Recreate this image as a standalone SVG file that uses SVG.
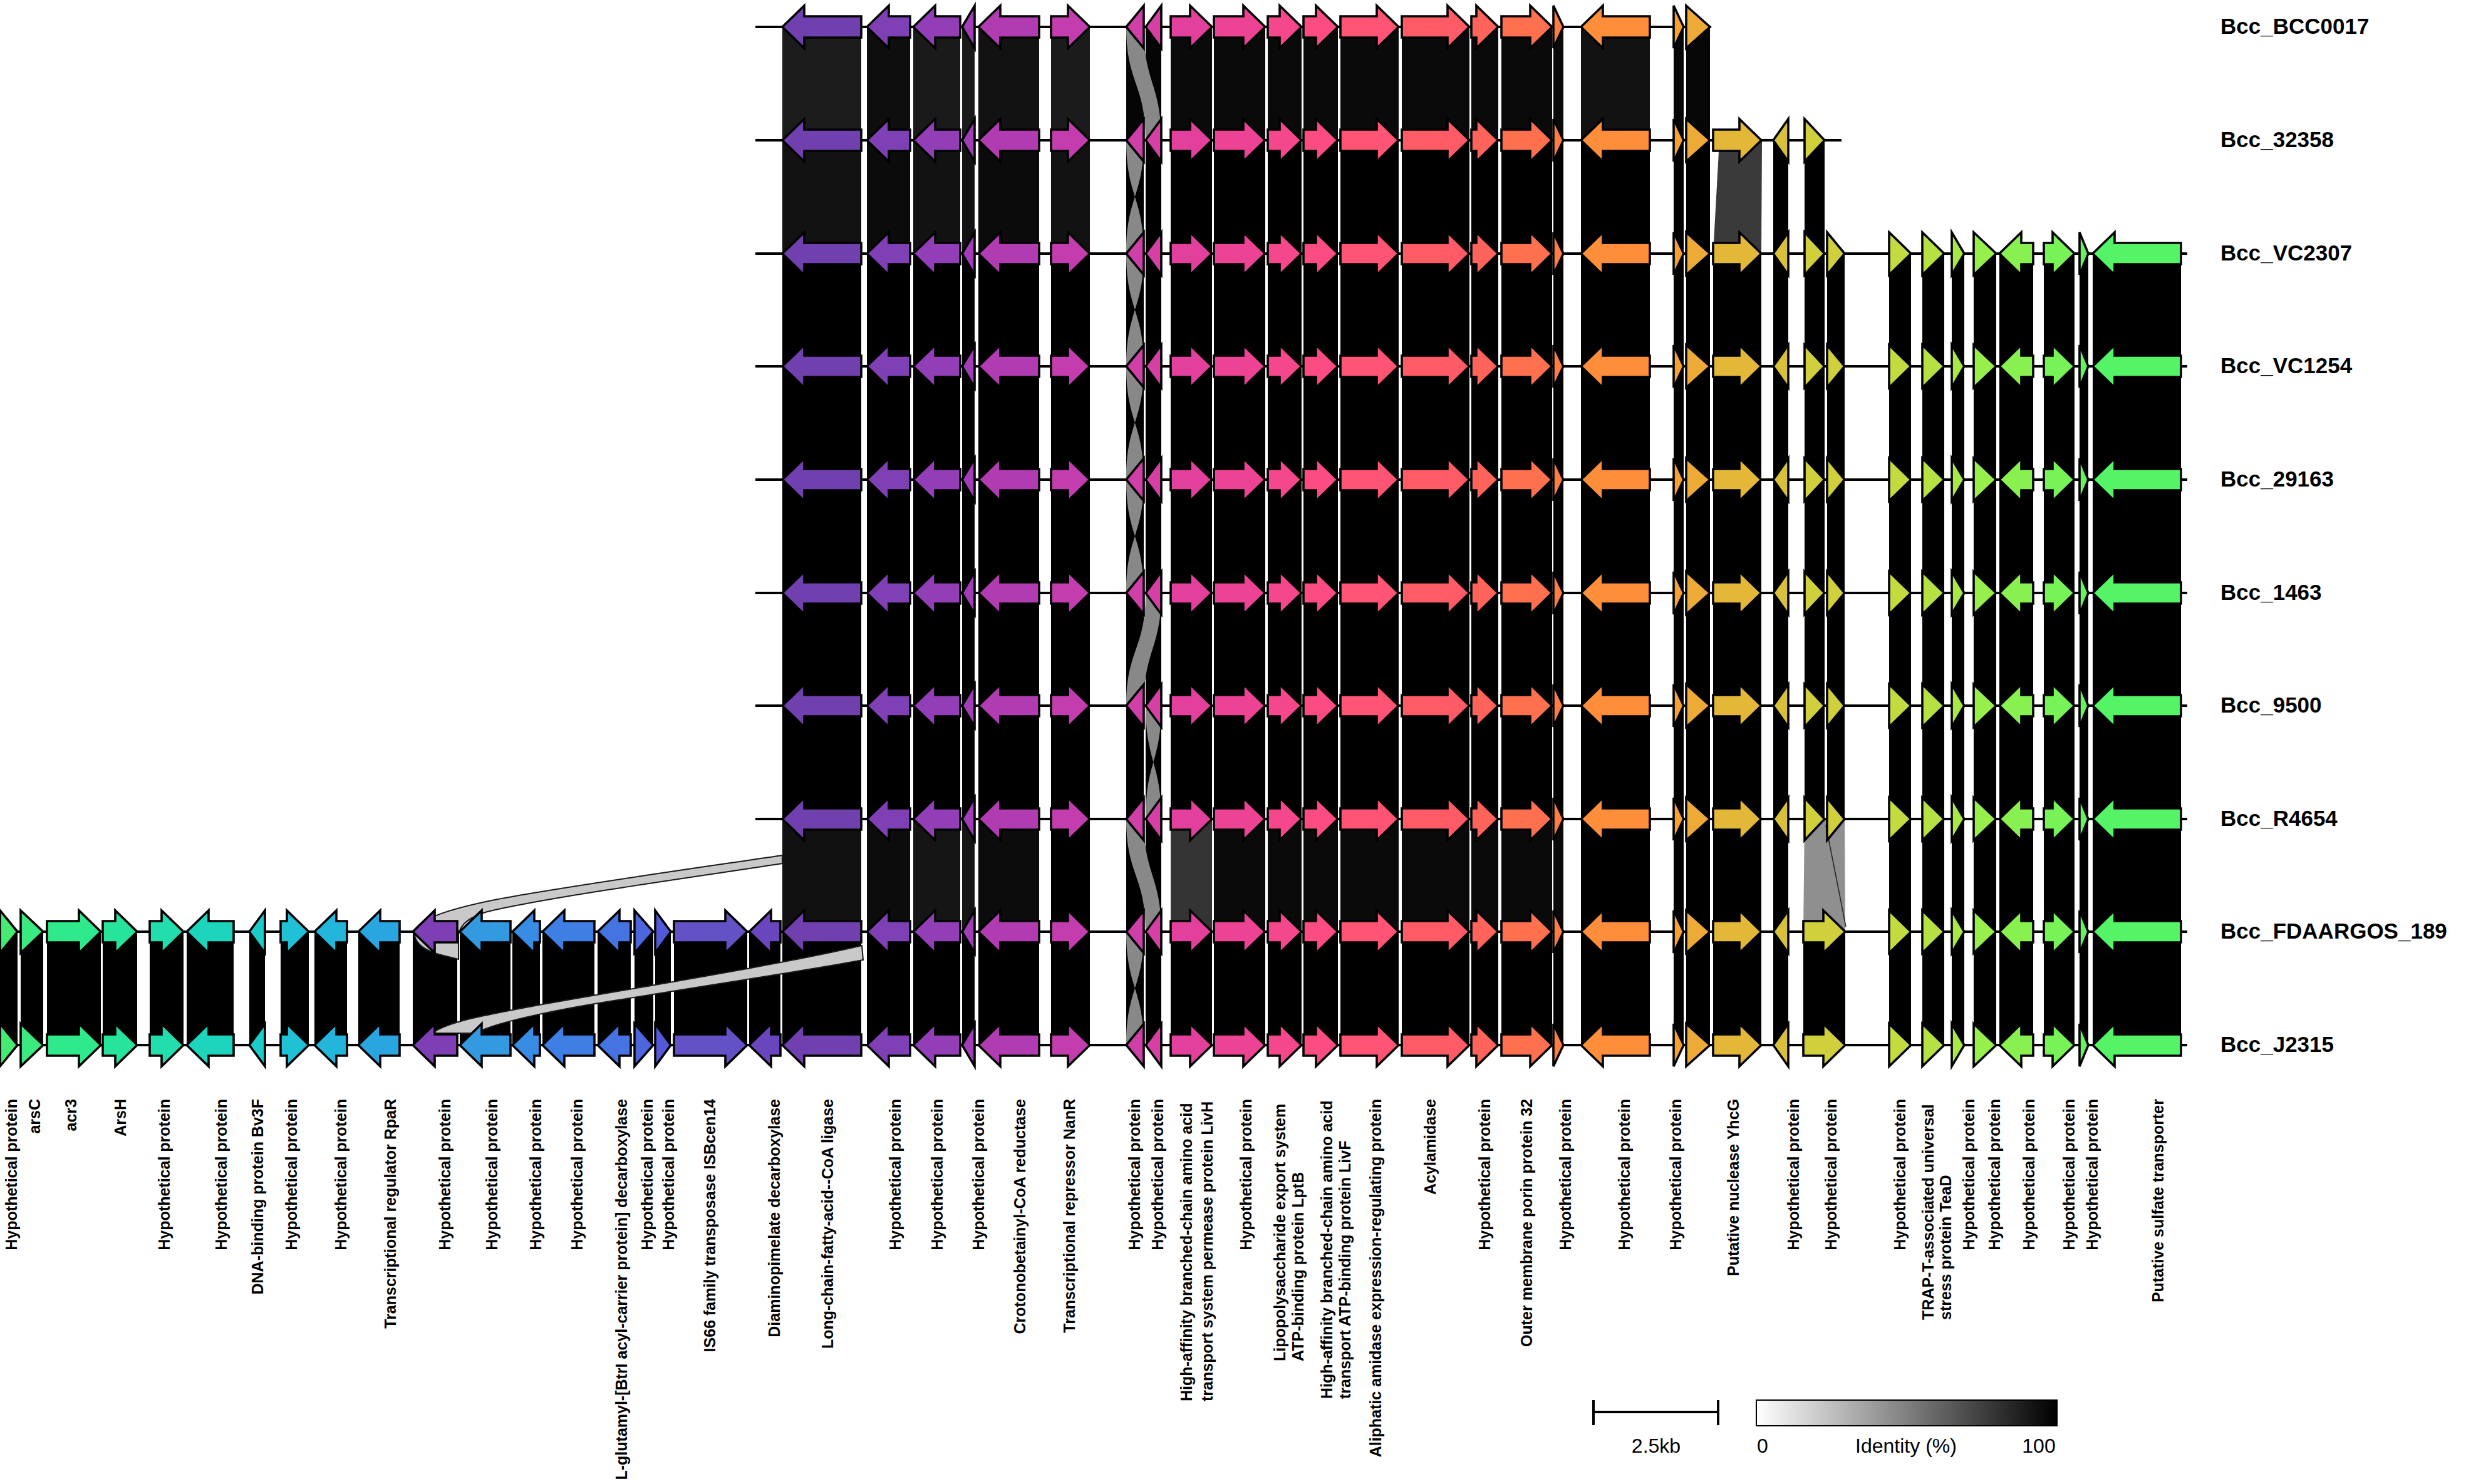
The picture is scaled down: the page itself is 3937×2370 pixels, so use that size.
<svg xmlns="http://www.w3.org/2000/svg" xmlns:xlink="http://www.w3.org/1999/xlink" width="3937" height="2370" viewBox="0 0 3937 2370">
<style>
.bb{stroke:#000;stroke-width:4}
.tl{font-family:"Liberation Sans",Arial,sans-serif;font-weight:bold;font-size:35px;fill:#000}
.lg{font-family:"Liberation Sans",Arial,sans-serif;font-size:32px;fill:#000}
.rb{fill:#c9c9c9;stroke:#1a1a1a;stroke-width:2}
.tw{fill:#888888}
</style>
<defs>
<linearGradient id="idg" x1="0" x2="1" y1="0" y2="0"><stop offset="0" stop-color="#ffffff"/><stop offset="1" stop-color="#000000"/></linearGradient>
<g id="core" stroke="#000" stroke-width="3.6">
<path fill="#6F40AE" d="M1249,0 L1284,-34 V-17 H1375 V17 H1284 V34 Z"/>
<path fill="#8040B5" d="M1384,0 L1419,-34 V-17 H1453 V17 H1419 V34 Z"/>
<path fill="#913EB7" d="M1458,0 L1493,-34 V-17 H1533 V17 H1493 V34 Z"/>
<path fill="#A03DB7" d="M1536,0 L1556,-34 V34 Z"/>
<path fill="#B13CB1" d="M1562,0 L1597,-34 V-17 H1659 V17 H1597 V34 Z"/>
<path fill="#C33DAE" d="M1678,-17 H1705 V-34 L1740,0 L1705,34 V17 H1678 Z"/>
<path fill="#D03FA8" d="M1798,0 L1826,-34 V34 Z"/>
<path fill="#D640A4" d="M1829,0 L1854,-34 V34 Z"/>
<path fill="#E2409C" d="M1869,-17 H1900 V-34 L1935,0 L1900,34 V17 H1869 Z"/>
<path fill="#EC4394" d="M1938,-17 H1985 V-34 L2020,0 L1985,34 V17 H1938 Z"/>
<path fill="#F5478B" d="M2024,-17 H2043 V-34 L2078,0 L2043,34 V17 H2024 Z"/>
<path fill="#FC4C81" d="M2081,-17 H2101 V-34 L2136,0 L2101,34 V17 H2081 Z"/>
<path fill="#FF5474" d="M2140,-17 H2198 V-34 L2233,0 L2198,34 V17 H2140 Z"/>
<path fill="#FF5B67" d="M2238,-17 H2311 V-34 L2346,0 L2311,34 V17 H2238 Z"/>
<path fill="#FF645B" d="M2349,-17 H2357 V-34 L2392,0 L2357,34 V17 H2349 Z"/>
<path fill="#FF704F" d="M2397,-17 H2443 V-34 L2478,0 L2443,34 V17 H2397 Z"/>
<path fill="#FF7D44" d="M2480,-34 L2496,0 L2480,34 Z"/>
<path fill="#FF8E3B" d="M2524,0 L2559,-34 V-17 H2634 V17 H2559 V34 Z"/>
<path fill="#F7A033" d="M2672,-34 L2688,0 L2672,34 Z"/>
<path fill="#EDAA36" d="M2692,-34 L2730,0 L2692,34 Z"/>
</g>
<g id="t40" stroke="#000" stroke-width="3.6">
<path fill="#E3B737" d="M2735,-17 H2777 V-34 L2812,0 L2777,34 V17 H2735 Z"/>
<path fill="#D9C03A" d="M2831,0 L2855,-34 V34 Z"/>
</g>
<path id="g42a" fill="#CFD03C" stroke="#000" stroke-width="3.6" d="M2881,-34 L2913,0 L2881,34 Z"/>
<path id="g42b" fill="#CFD03C" stroke="#000" stroke-width="3.6" d="M2917,-34 L2945,0 L2917,34 Z"/>
<path id="g42f" fill="#CFD03C" stroke="#000" stroke-width="3.6" d="M2879,-17 H2911 V-34 L2946,0 L2911,34 V17 H2879 Z"/>
<g id="tR" stroke="#000" stroke-width="3.6">
<path fill="#C4DA3F" d="M3016,-34 L3051,0 L3016,34 Z"/>
<path fill="#B6E143" d="M3069,-34 L3104,0 L3069,34 Z"/>
<path fill="#A7E846" d="M3116,-34 L3136,0 L3116,34 Z"/>
<path fill="#98EE4B" d="M3151,-34 L3187,0 L3151,34 Z"/>
<path fill="#88F150" d="M3192,0 L3227,-34 V-17 H3246 V17 H3227 V34 Z"/>
<path fill="#77F257" d="M3263,-17 H3277 V-34 L3312,0 L3277,34 V17 H3263 Z"/>
<path fill="#66F35E" d="M3320,-34 L3334,0 L3320,34 Z"/>
<path fill="#55F467" d="M3341,0 L3376,-34 V-17 H3482 V17 H3376 V34 Z"/>
</g>
<g id="left" stroke="#000" stroke-width="3.6">
<path fill="#45EA73" d="M0,-34 L28,0 L0,34 Z"/>
<path fill="#3AEA80" d="M33,-34 L69,0 L33,34 Z"/>
<path fill="#2FE98D" d="M75,-17 H126 V-34 L161,0 L126,34 V17 H75 Z"/>
<path fill="#27E49C" d="M164,-17 H184 V-34 L219,0 L184,34 V17 H164 Z"/>
<path fill="#22DEAC" d="M239,-17 H258 V-34 L293,0 L258,34 V17 H239 Z"/>
<path fill="#1DD5BD" d="M298,0 L333,-34 V-17 H373 V17 H333 V34 Z"/>
<path fill="#1DCCC8" d="M398,0 L423,-34 V34 Z"/>
<path fill="#20C1D4" d="M448,-17 H458 V-34 L493,0 L458,34 V17 H448 Z"/>
<path fill="#24B5DB" d="M502,0 L537,-34 V-17 H554 V17 H537 V34 Z"/>
<path fill="#29A6E0" d="M572,0 L607,-34 V-17 H638 V17 H607 V34 Z"/>
<path fill="#7E3EB4" d="M659,0 L694,-34 V-17 H730 V17 H694 V34 Z"/>
<path fill="#3399E1" d="M734,0 L769,-34 V-17 H815 V17 H769 V34 Z"/>
<path fill="#388CE3" d="M818,0 L853,-34 V-17 H862 V17 H853 V34 Z"/>
<path fill="#3F7FE3" d="M866,0 L901,-34 V-17 H949 V17 H901 V34 Z"/>
<path fill="#4673E2" d="M954,0 L989,-34 V-17 H1007 V17 H989 V34 Z"/>
<path fill="#4D66DE" d="M1013,-34 L1043,0 L1013,34 Z"/>
<path fill="#5359D9" d="M1046,-34 L1071,0 L1046,34 Z"/>
<path fill="#6352C6" d="M1076,-17 H1158 V-34 L1193,0 L1158,34 V17 H1076 Z"/>
<path fill="#6A46BE" d="M1196,0 L1231,-34 V-17 H1246 V17 H1231 V34 Z"/>
</g>
<g id="bcore">
<rect x="1249" y="0" width="126" height="1"/><rect x="1384" y="0" width="69" height="1"/><rect x="1458" y="0" width="75" height="1"/><rect x="1536" y="0" width="20" height="1"/><rect x="1562" y="0" width="97" height="1"/><rect x="1678" y="0" width="62" height="1"/><rect x="1798" y="0" width="28" height="1"/><rect x="1829" y="0" width="25" height="1"/><rect x="1869" y="0" width="66" height="1"/><rect x="1938" y="0" width="82" height="1"/><rect x="2024" y="0" width="54" height="1"/><rect x="2081" y="0" width="55" height="1"/><rect x="2140" y="0" width="93" height="1"/><rect x="2238" y="0" width="108" height="1"/><rect x="2349" y="0" width="43" height="1"/><rect x="2397" y="0" width="81" height="1"/><rect x="2480" y="0" width="16" height="1"/><rect x="2524" y="0" width="110" height="1"/><rect x="2672" y="0" width="16" height="1"/><rect x="2692" y="0" width="38" height="1"/><rect x="2735" y="0" width="77" height="1"/><rect x="2831" y="0" width="24" height="1"/><rect x="2881" y="0" width="32" height="1"/><rect x="2917" y="0" width="28" height="1"/><rect x="3016" y="0" width="35" height="1"/><rect x="3069" y="0" width="35" height="1"/><rect x="3116" y="0" width="20" height="1"/><rect x="3151" y="0" width="36" height="1"/><rect x="3192" y="0" width="54" height="1"/><rect x="3263" y="0" width="49" height="1"/><rect x="3320" y="0" width="14" height="1"/><rect x="3341" y="0" width="141" height="1"/>
</g>
<g id="bleft">
<rect x="0" y="0" width="28" height="1"/><rect x="33" y="0" width="36" height="1"/><rect x="75" y="0" width="86" height="1"/><rect x="164" y="0" width="55" height="1"/><rect x="239" y="0" width="54" height="1"/><rect x="298" y="0" width="75" height="1"/><rect x="398" y="0" width="25" height="1"/><rect x="448" y="0" width="45" height="1"/><rect x="502" y="0" width="52" height="1"/><rect x="572" y="0" width="66" height="1"/><rect x="659" y="0" width="71" height="1"/><rect x="734" y="0" width="81" height="1"/><rect x="818" y="0" width="44" height="1"/><rect x="866" y="0" width="83" height="1"/><rect x="954" y="0" width="53" height="1"/><rect x="1013" y="0" width="30" height="1"/><rect x="1046" y="0" width="25" height="1"/><rect x="1076" y="0" width="117" height="1"/><rect x="1196" y="0" width="50" height="1"/>
</g>
</defs>
<rect x="0" y="0" width="3937" height="2370" fill="#ffffff"/>

<g id="connectors">
<g id="links-1-2" transform="translate(0,43) scale(1,181)">
<rect x="1249" y="0" width="126" height="1" fill="#1c1c1c"/><rect x="1384" y="0" width="69" height="1" fill="#0e0e0e"/><rect x="1458" y="0" width="75" height="1" fill="#1a1a1a"/><rect x="1536" y="0" width="20" height="1" fill="#1a1a1a"/><rect x="1562" y="0" width="97" height="1" fill="#121212"/><rect x="1678" y="0" width="62" height="1" fill="#1b1b1b"/><rect x="1798" y="0" width="28" height="1" fill="#050505"/><rect x="1829" y="0" width="25" height="1" fill="#050505"/>
<g fill="#0a0a0a"><rect x="1869" y="0" width="66" height="1"/><rect x="1938" y="0" width="82" height="1"/><rect x="2024" y="0" width="54" height="1"/><rect x="2081" y="0" width="55" height="1"/><rect x="2140" y="0" width="93" height="1"/><rect x="2238" y="0" width="108" height="1"/><rect x="2349" y="0" width="43" height="1"/><rect x="2397" y="0" width="81" height="1"/><rect x="2480" y="0" width="16" height="1"/></g>
<rect x="2524" y="0" width="110" height="1" fill="#121212"/><rect x="2672" y="0" width="16" height="1" fill="#060606"/><rect x="2692" y="0" width="38" height="1" fill="#060606"/>
</g>
<g id="links-2-3" transform="translate(0,224) scale(1,181)">
<rect x="1249" y="0" width="126" height="1" fill="#121212"/><rect x="1384" y="0" width="69" height="1" fill="#0b0b0b"/><rect x="1458" y="0" width="75" height="1" fill="#121212"/><rect x="1536" y="0" width="20" height="1" fill="#121212"/><rect x="1562" y="0" width="97" height="1" fill="#0b0b0b"/><rect x="1678" y="0" width="62" height="1" fill="#121212"/>
<g fill="#000"><rect x="1798" y="0" width="28" height="1"/><rect x="1829" y="0" width="25" height="1"/><rect x="1869" y="0" width="66" height="1"/><rect x="1938" y="0" width="82" height="1"/><rect x="2024" y="0" width="54" height="1"/><rect x="2081" y="0" width="55" height="1"/><rect x="2140" y="0" width="93" height="1"/><rect x="2238" y="0" width="108" height="1"/><rect x="2349" y="0" width="43" height="1"/><rect x="2397" y="0" width="81" height="1"/><rect x="2480" y="0" width="16" height="1"/><rect x="2524" y="0" width="110" height="1"/><rect x="2672" y="0" width="16" height="1"/><rect x="2692" y="0" width="38" height="1"/><rect x="2831" y="0" width="24" height="1"/><rect x="2881" y="0" width="32" height="1"/></g>
</g>
<path d="M2745,224 L2813,224 L2812,405 L2735,405 Z" fill="#3a3a3a"/>
<use href="#bcore" xlink:href="#bcore" fill="#000" transform="translate(0,405) scale(1,903)"/>
<g id="links-8-9" transform="translate(0,1308) scale(1,180)">
<rect x="1249" y="0" width="126" height="1" fill="#111111"/><rect x="1384" y="0" width="69" height="1" fill="#0c0c0c"/><rect x="1458" y="0" width="75" height="1" fill="#151515"/><rect x="1536" y="0" width="20" height="1" fill="#151515"/><rect x="1562" y="0" width="97" height="1" fill="#0c0c0c"/><rect x="1678" y="0" width="62" height="1" fill="#000"/><rect x="1798" y="0" width="28" height="1" fill="#000"/><rect x="1829" y="0" width="25" height="1" fill="#000"/><rect x="1869" y="0" width="66" height="1" fill="#343434"/>
<g fill="#0a0a0a"><rect x="1938" y="0" width="82" height="1"/><rect x="2024" y="0" width="54" height="1"/><rect x="2081" y="0" width="55" height="1"/><rect x="2140" y="0" width="93" height="1"/><rect x="2238" y="0" width="108" height="1"/><rect x="2349" y="0" width="43" height="1"/><rect x="2397" y="0" width="81" height="1"/><rect x="2480" y="0" width="16" height="1"/></g>
<g fill="#000"><rect x="2524" y="0" width="110" height="1"/><rect x="2672" y="0" width="16" height="1"/><rect x="2692" y="0" width="38" height="1"/><rect x="2735" y="0" width="77" height="1"/><rect x="2831" y="0" width="24" height="1"/><rect x="3016" y="0" width="35" height="1"/><rect x="3069" y="0" width="35" height="1"/><rect x="3116" y="0" width="20" height="1"/><rect x="3151" y="0" width="36" height="1"/><rect x="3192" y="0" width="54" height="1"/><rect x="3263" y="0" width="49" height="1"/><rect x="3320" y="0" width="14" height="1"/><rect x="3341" y="0" width="141" height="1"/></g>
</g>
<path d="M2881,1308 L2945,1308 L2946,1488 L2879,1488 Z" fill="#8f8f8f"/>
<path d="M2915,1318 L2947,1480" fill="none" stroke="#222" stroke-width="1.5"/>
<use href="#bcore" xlink:href="#bcore" fill="#000" transform="translate(0,1488) scale(1,181)"/>
<use href="#bleft" xlink:href="#bleft" fill="#000" transform="translate(0,1488) scale(1,181)"/>
<rect x="2879" y="1488" width="67" height="181" fill="#000"/>
<g id="twists">
<path class="tw" d="M1798,43 L1826,43 C1826,133 1854,133 1854,224 L1829,224 C1829,133 1798,133 1798,43 Z"/>
<path class="tw" d="M1798,224 L1826,224 C1826,314 1798,314 1798,405 L1826,405 C1826,314 1798,314 1798,224 Z"/>
<path class="tw" d="M1798,405 L1826,405 C1826,495 1798,495 1798,585 L1826,585 C1826,495 1798,495 1798,405 Z"/>
<path class="tw" d="M1798,585 L1826,585 C1826,675 1798,675 1798,766 L1826,766 C1826,675 1798,675 1798,585 Z"/>
<path class="tw" d="M1798,766 L1826,766 C1826,856 1798,856 1798,947 L1826,947 C1826,856 1798,856 1798,766 Z"/>
<path class="tw" d="M1829,947 L1854,947 C1854,1037 1826,1037 1826,1127 L1798,1127 C1798,1037 1829,1037 1829,947 Z"/>
<path class="tw" d="M1829,1127 L1854,1127 C1854,1217 1829,1217 1829,1308 L1854,1308 C1854,1217 1829,1217 1829,1127 Z"/>
<path class="tw" d="M1798,1308 L1826,1308 C1826,1398 1854,1398 1854,1488 L1829,1488 C1829,1398 1798,1398 1798,1308 Z"/>
<path class="tw" d="M1798,1488 L1826,1488 C1826,1578 1798,1578 1798,1669 L1826,1669 C1826,1578 1798,1578 1798,1488 Z"/>
</g>
<path class="rb" d="M1249,1366 C1100,1388 900,1416 790,1437 C735,1448 690,1460 670,1476 C655,1490 660,1512 700,1524 L732,1532 L732,1492 C736,1476 748,1465 778,1456 C880,1432 1100,1402 1249,1379 Z"/>
<path class="rb" d="M1376,1510 C1250,1540 1000,1580 850,1607 C770,1622 715,1632 690,1650 L760,1650 C790,1632 900,1610 1000,1595 C1150,1570 1300,1548 1378,1533 Z"/>
</g>

<g id="track-Bcc_BCC0017" transform="translate(0,43)">
<line class="bb" x1="1206" y1="0" x2="2732" y2="0"/>
<use href="#core" xlink:href="#core"/>
<text class="tl" x="3545" y="11">Bcc_BCC0017</text>
</g>
<g id="track-Bcc_32358" transform="translate(0,224)">
<line class="bb" x1="1206" y1="0" x2="2940" y2="0"/>
<use href="#core" xlink:href="#core"/><use href="#t40" xlink:href="#t40"/><use href="#g42a" xlink:href="#g42a"/>
<text class="tl" x="3545" y="11">Bcc_32358</text>
</g>
<g id="track-Bcc_VC2307" transform="translate(0,405)">
<line class="bb" x1="1206" y1="0" x2="3492" y2="0"/>
<use href="#core" xlink:href="#core"/><use href="#t40" xlink:href="#t40"/><use href="#g42a" xlink:href="#g42a"/><use href="#g42b" xlink:href="#g42b"/><use href="#tR" xlink:href="#tR"/>
<text class="tl" x="3545" y="11">Bcc_VC2307</text>
</g>
<g id="track-Bcc_VC1254" transform="translate(0,585)">
<line class="bb" x1="1206" y1="0" x2="3492" y2="0"/>
<use href="#core" xlink:href="#core"/><use href="#t40" xlink:href="#t40"/><use href="#g42a" xlink:href="#g42a"/><use href="#g42b" xlink:href="#g42b"/><use href="#tR" xlink:href="#tR"/>
<text class="tl" x="3545" y="11">Bcc_VC1254</text>
</g>
<g id="track-Bcc_29163" transform="translate(0,766)">
<line class="bb" x1="1206" y1="0" x2="3492" y2="0"/>
<use href="#core" xlink:href="#core"/><use href="#t40" xlink:href="#t40"/><use href="#g42a" xlink:href="#g42a"/><use href="#g42b" xlink:href="#g42b"/><use href="#tR" xlink:href="#tR"/>
<text class="tl" x="3545" y="11">Bcc_29163</text>
</g>
<g id="track-Bcc_1463" transform="translate(0,947)">
<line class="bb" x1="1206" y1="0" x2="3492" y2="0"/>
<use href="#core" xlink:href="#core"/><use href="#t40" xlink:href="#t40"/><use href="#g42a" xlink:href="#g42a"/><use href="#g42b" xlink:href="#g42b"/><use href="#tR" xlink:href="#tR"/>
<text class="tl" x="3545" y="11">Bcc_1463</text>
</g>
<g id="track-Bcc_9500" transform="translate(0,1127)">
<line class="bb" x1="1206" y1="0" x2="3492" y2="0"/>
<use href="#core" xlink:href="#core"/><use href="#t40" xlink:href="#t40"/><use href="#g42a" xlink:href="#g42a"/><use href="#g42b" xlink:href="#g42b"/><use href="#tR" xlink:href="#tR"/>
<text class="tl" x="3545" y="11">Bcc_9500</text>
</g>
<g id="track-Bcc_R4654" transform="translate(0,1308)">
<line class="bb" x1="1206" y1="0" x2="3492" y2="0"/>
<use href="#core" xlink:href="#core"/><use href="#t40" xlink:href="#t40"/><use href="#g42a" xlink:href="#g42a"/><use href="#g42b" xlink:href="#g42b"/><use href="#tR" xlink:href="#tR"/>
<text class="tl" x="3545" y="11">Bcc_R4654</text>
</g>
<g id="track-Bcc_FDAARGOS_189" transform="translate(0,1488)">
<line class="bb" x1="0" y1="0" x2="3492" y2="0"/>
<use href="#left" xlink:href="#left"/><use href="#core" xlink:href="#core"/><use href="#t40" xlink:href="#t40"/><use href="#g42f" xlink:href="#g42f"/><use href="#tR" xlink:href="#tR"/>
<text class="tl" x="3545" y="11">Bcc_FDAARGOS_189</text>
</g>
<g id="track-Bcc_J2315" transform="translate(0,1669)">
<line class="bb" x1="0" y1="0" x2="3492" y2="0"/>
<use href="#left" xlink:href="#left"/><use href="#core" xlink:href="#core"/><use href="#t40" xlink:href="#t40"/><use href="#g42f" xlink:href="#g42f"/><use href="#tR" xlink:href="#tR"/>
<text class="tl" x="3545" y="11">Bcc_J2315</text>
</g>

<g id="gene-labels" font-family="'Liberation Sans', Arial, sans-serif" font-weight="bold" font-size="25" fill="#000" text-anchor="end">
<text transform="translate(27,1755) rotate(-90)">Hypothetical protein</text>
<text transform="translate(64,1755) rotate(-90)">arsC</text>
<text transform="translate(122,1755) rotate(-90)">acr3</text>
<text transform="translate(201,1755) rotate(-90)">ArsH</text>
<text transform="translate(271,1755) rotate(-90)">Hypothetical protein</text>
<text transform="translate(362,1755) rotate(-90)">Hypothetical protein</text>
<text transform="translate(420,1755) rotate(-90)">DNA-binding protein Bv3F</text>
<text transform="translate(474,1755) rotate(-90)">Hypothetical protein</text>
<text transform="translate(553,1755) rotate(-90)">Hypothetical protein</text>
<text transform="translate(632,1755) rotate(-90)">Transcriptional regulator RpaR</text>
<text transform="translate(719,1755) rotate(-90)">Hypothetical protein</text>
<text transform="translate(794,1755) rotate(-90)">Hypothetical protein</text>
<text transform="translate(864,1755) rotate(-90)">Hypothetical protein</text>
<text transform="translate(930,1755) rotate(-90)">Hypothetical protein</text>
<text transform="translate(1001,1755) rotate(-90)">L-glutamyl-[BtrI acyl-carrier protein] decarboxylase</text>
<text transform="translate(1042,1755) rotate(-90)">Hypothetical protein</text>
<text transform="translate(1076,1755) rotate(-90)">Hypothetical protein</text>
<text transform="translate(1142,1755) rotate(-90)">IS66 family transposase ISBcen14</text>
<text transform="translate(1245,1755) rotate(-90)">Diaminopimelate decarboxylase</text>
<text transform="translate(1330,1755) rotate(-90)">Long-chain-fatty-acid--CoA ligase</text>
<text transform="translate(1438,1755) rotate(-90)">Hypothetical protein</text>
<text transform="translate(1505,1755) rotate(-90)">Hypothetical protein</text>
<text transform="translate(1571,1755) rotate(-90)">Hypothetical protein</text>
<text transform="translate(1637,1755) rotate(-90)">Crotonobetainyl-CoA reductase</text>
<text transform="translate(1716,1755) rotate(-90)">Transcriptional repressor NanR</text>
<text transform="translate(1820,1755) rotate(-90)">Hypothetical protein</text>
<text transform="translate(1857,1755) rotate(-90)">Hypothetical protein</text>
<text transform="translate(1903,2238) rotate(-90)" text-anchor="start">High-affinity branched-chain amino acid</text>
<text transform="translate(1936,2238) rotate(-90)" text-anchor="start">transport system permease protein LivH</text>
<text transform="translate(1998,1755) rotate(-90)">Hypothetical protein</text>
<text transform="translate(2052,2174) rotate(-90)" text-anchor="start">Lipopolysaccharide export system</text>
<text transform="translate(2081,2174) rotate(-90)" text-anchor="start">ATP-binding protein LptB</text>
<text transform="translate(2127,2234) rotate(-90)" text-anchor="start">High-affinity branched-chain amino acid</text>
<text transform="translate(2156,2234) rotate(-90)" text-anchor="start">transport ATP-binding protein LivF</text>
<text transform="translate(2205,1755) rotate(-90)">Aliphatic amidase expression-regulating protein</text>
<text transform="translate(2292,1755) rotate(-90)">Acylamidase</text>
<text transform="translate(2379,1755) rotate(-90)">Hypothetical protein</text>
<text transform="translate(2446,1755) rotate(-90)">Outer membrane porin protein 32</text>
<text transform="translate(2508,1755) rotate(-90)">Hypothetical protein</text>
<text transform="translate(2602,1755) rotate(-90)">Hypothetical protein</text>
<text transform="translate(2684,1755) rotate(-90)">Hypothetical protein</text>
<text transform="translate(2776,1755) rotate(-90)">Putative nuclease YhcG</text>
<text transform="translate(2872,1755) rotate(-90)">Hypothetical protein</text>
<text transform="translate(2932,1755) rotate(-90)">Hypothetical protein</text>
<text transform="translate(3042,1755) rotate(-90)">Hypothetical protein</text>
<text transform="translate(3087,2108) rotate(-90)" text-anchor="start">TRAP-T-associated universal</text>
<text transform="translate(3115,2108) rotate(-90)" text-anchor="start">stress protein TeaD</text>
<text transform="translate(3152,1755) rotate(-90)">Hypothetical protein</text>
<text transform="translate(3193,1755) rotate(-90)">Hypothetical protein</text>
<text transform="translate(3248,1755) rotate(-90)">Hypothetical protein</text>
<text transform="translate(3312,1755) rotate(-90)">Hypothetical protein</text>
<text transform="translate(3349,1755) rotate(-90)">Hypothetical protein</text>
<text transform="translate(3454,1755) rotate(-90)">Putative sulfate transporter</text>
</g>

<g id="legend-scale">
<path d="M2544,2255 H2743 M2544,2236 V2276 M2743,2236 V2276" stroke="#000" stroke-width="4" fill="none"/>
<text class="lg" x="2644" y="2320" text-anchor="middle">2.5kb</text>
</g>
<g id="legend-identity">
<rect x="2804" y="2236" width="480" height="41" fill="url(#idg)" stroke="#000" stroke-width="2"/>
<text class="lg" x="2814" y="2320" text-anchor="middle">0</text>
<text class="lg" x="3043" y="2320" text-anchor="middle">Identity (%)</text>
<text class="lg" x="3255" y="2320" text-anchor="middle">100</text>
</g>
</svg>
